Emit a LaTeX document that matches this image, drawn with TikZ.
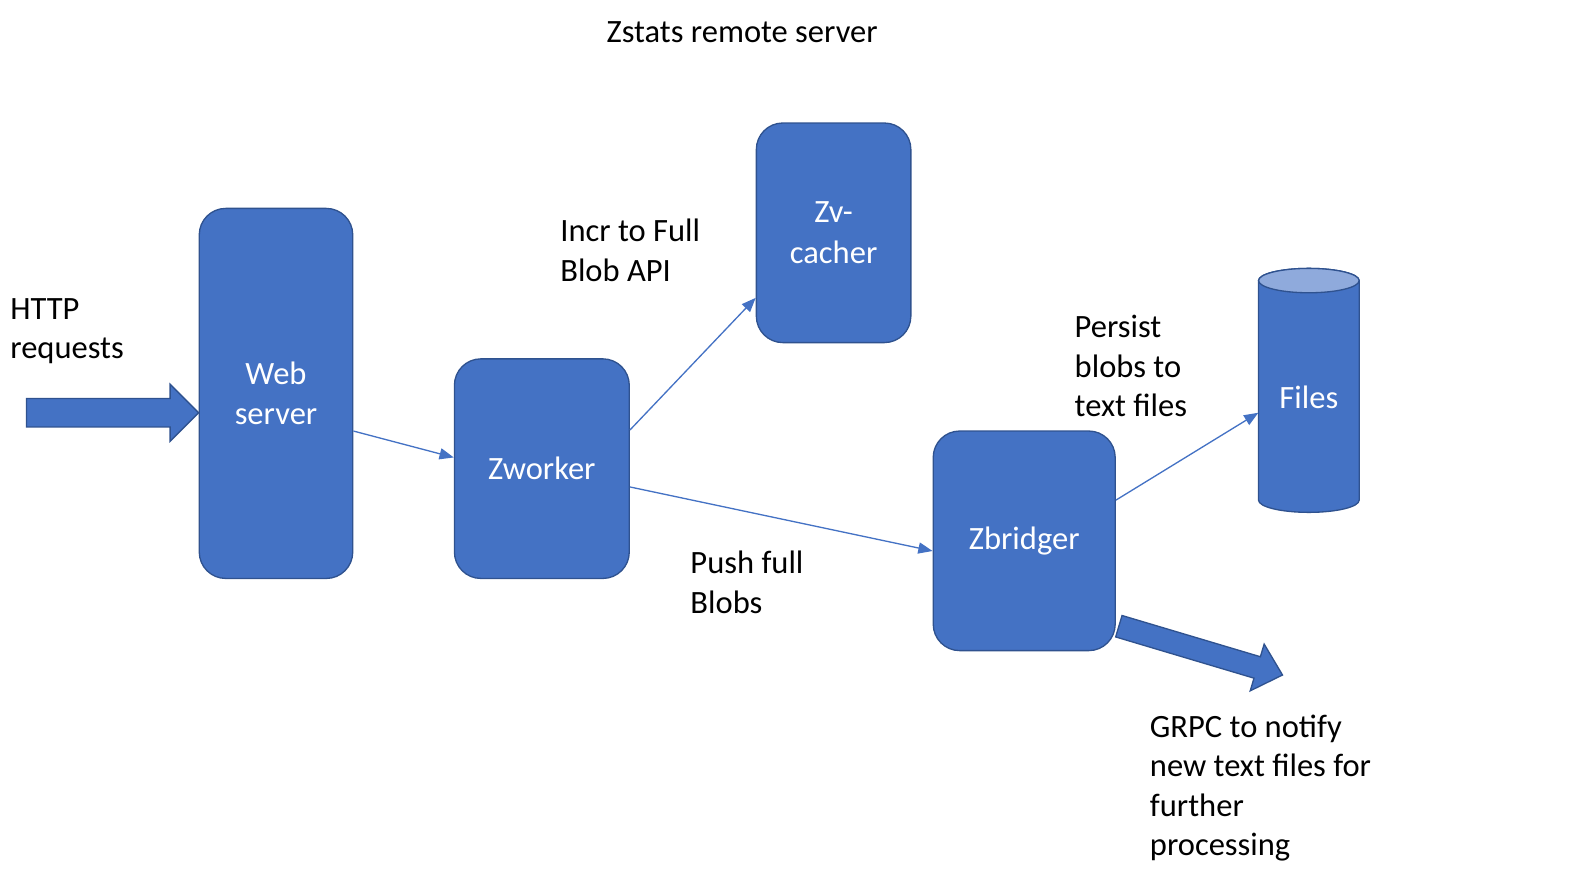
\documentclass[tikz,border=0pt]{standalone}
\usepackage{fontspec}
\setmainfont{Carlito}
\usetikzlibrary{arrows.meta,calc}
\definecolor{boxfill}{HTML}{4472C4}
\definecolor{boxline}{HTML}{2F528F}
\definecolor{cyltop}{HTML}{8FAADC}
\tikzset{
  box/.style={draw=boxline, fill=boxfill, line width=1.3pt, rounded corners=26pt,
    text=white, align=center, font=\fontsize{32}{40}\selectfont, inner sep=0pt},
  lbl/.style={anchor=base west, align=left, inner sep=0pt, font=\fontsize{32}{39}\selectfont},
  conn/.style={draw=boxfill, line width=1.3pt, -{Triangle[length=14pt,width=11pt]}},
  blockarrow/.style={draw=boxline, fill=boxfill, line width=1.3pt, line join=miter}
}
\begin{document}
\begin{tikzpicture}[x=1pt,y=1pt]
\useasboundingbox (0,0) rectangle (1568,-875.5);

% title
\node[lbl, anchor=base] (title) at (730,-42) {Zstats remote server};

% boxes
\node[box, minimum width=151pt, minimum height=364pt] (web) at (271.5,-387) {Web\\server};
\node[box, minimum width=172pt, minimum height=216pt] (zw) at (533,-461) {Zworker};
\node[box, minimum width=152pt, minimum height=216pt] (zv) at (820,-229) {Zv-\\cacher};
\node[box, minimum width=179pt, minimum height=216pt] (zb) at (1007.5,-532) {Zbridger};

% cylinder (Files)
\node[minimum width=99pt, minimum height=240pt, inner sep=0pt] (files) at (1287.5,-384) {};
\draw[boxline, fill=boxfill, line width=1.3pt]
  (1238,-276) -- (1238,-492) arc[start angle=180, end angle=360, x radius=49.5pt, y radius=12pt]
  -- (1337,-276) arc[start angle=0, end angle=180, x radius=49.5pt, y radius=12pt] -- cycle;
\draw[boxline, fill=cyltop, line width=1.3pt] (1287.5,-276) ellipse[x radius=49.5pt, y radius=12pt];
\node[text=white, font=\fontsize{32}{40}\selectfont] at (1287.5,-391) {Files};

% connectors
\draw[conn] ([yshift=-37pt]web.east) -- ([yshift=11pt]zw.west);
\draw[conn] ([yshift=38pt]zw.east) -- ([yshift=-64pt]zv.west);
\draw[conn] ([yshift=-18pt]zw.east) -- ([yshift=-10pt]zb.west);
\draw[conn] ([yshift=40pt]zb.east) -- ([yshift=-22pt]files.west);

% block arrow into web server
\coordinate (httptail) at (26,-406);
\coordinate (httptip) at (web.west |- httptail);
\draw[blockarrow] ($(httptail)+(0,14)$) -- ($(httptip)+(-28,14)$) -- ($(httptip)+(-28,28)$)
  -- (httptip) -- ($(httptip)+(-28,-28)$) -- ($(httptip)+(-28,-14)$) -- ($(httptail)+(0,-14)$) -- cycle;

% block arrow out of zbridger
\coordinate (grpcstart) at (1100.6,-616);
\begin{scope}[shift={(grpcstart)}, rotate=-16.6]
\draw[blockarrow] (0,11) -- (142,11) -- (142,24) -- (168,0) -- (142,-24) -- (142,-11) -- (0,-11) -- cycle;
\end{scope}

% labels (base anchor = baseline of last line)
\node[lbl] (http) at (10,-353) {HTTP\\requests};
\node[lbl] (incr) at (551,-277) {Incr to Full\\Blob API};
\node[lbl] (push) at (679,-603) {Push full\\Blobs};
\node[lbl] (persist) at (1057,-410) {Persist\\blobs to\\text files};
\node[lbl] (grpc) at (1131,-842) {GRPC to notify\\new text files for\\further\\processing};
\end{tikzpicture}
\end{document}
